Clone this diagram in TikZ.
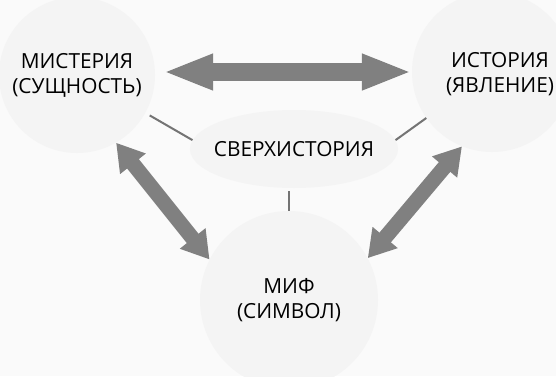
\documentclass[tikz,border=0pt]{standalone}
\usepackage{fontspec}
\setmainfont{Open Sans}
\usetikzlibrary{arrows.meta,shapes.geometric}
\definecolor{paper}{HTML}{FAFAFA}
\definecolor{blobfill}{HTML}{F4F4F4}
\definecolor{arrowgray}{HTML}{808080}
\definecolor{linkgray}{HTML}{747474}

\begin{document}
\begin{tikzpicture}[x=1pt,y=1pt,
  blob/.style={circle,fill=blobfill,align=center,font=\fontsize{20.8}{25}\selectfont},
  oval/.style={ellipse,fill=blobfill,inner xsep=-6.5pt,align=center,font=\fontsize{20.8}{25}\selectfont},
  label text/.style={align=center,font=\fontsize{20.8}{25}\selectfont},
  wide/.style={arrowgray,line width=18pt,{Triangle[length=50pt,width=33pt]}-{Triangle[length=50pt,width=33pt]}},
  slant/.style={arrowgray,line width=15pt,{Triangle[length=27pt,width=31pt]}-{Triangle[length=27pt,width=31pt]}},
  link/.style={linkgray,line width=2pt}]
\tikzstyle{every node}+=[inner sep=0pt]
\fill [paper] (0,0) rectangle (556,-376);
\useasboundingbox (0,0) rectangle (556,-376);
% the four bubbles
\node [blob,minimum size=156] (mist) at (77,-75) {МИСТЕРИЯ\\(СУЩНОСТЬ)};
\node [blob,minimum size=160] (ist) at (492,-72) {};
\node [label text] (ist-text) at (500,-74) {ИСТОРИЯ\\(ЯВЛЕНИЕ)};
\node [blob,minimum size=178] (mif) at (289,-300) {МИФ\\(СИМВОЛ)};
\node [oval,minimum width=204,minimum height=78] (sup) at (294,-149) {СВЕРХИСТОРИЯ};
% thin links to the centre
\draw [link,shorten <=5pt] (mist.-29) -- (sup.175);
\draw [link] (sup.5) -- (ist.215);
\draw [link,shorten <=3pt] (sup.south -| mif.north) -- (mif.north);
% double arrows
\draw [wide,shorten <=8pt] (mist.east |- ist.west) -- (ist.west);
\draw [slant] (mist.-60) -- (mif.153);
\draw [slant] (ist.248) -- (mif.28);
\end{tikzpicture}
\end{document}
